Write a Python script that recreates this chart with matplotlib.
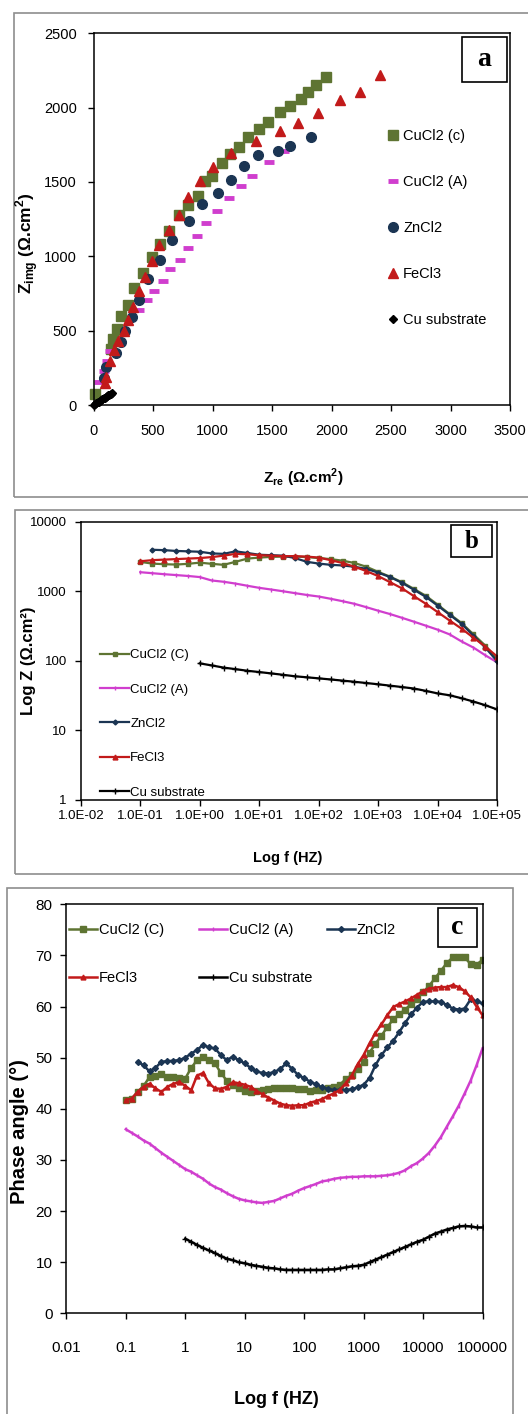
import matplotlib
matplotlib.use("Agg")
import matplotlib.pyplot as plt
from matplotlib.patches import Rectangle
from matplotlib.ticker import FixedLocator, NullLocator, FuncFormatter

# ---------------- panel a : Nyquist ----------------
cucl2_c_re = [11, 144, 167, 195, 229, 286, 339, 413, 492, 560, 632, 716, 792, 876, 935, 992,
              1076, 1146, 1222, 1298, 1393, 1469, 1570, 1652, 1742, 1801, 1871, 1952]
cucl2_c_im = [74, 376, 444, 511, 598, 672, 786, 889, 995, 1080, 1173, 1280, 1348, 1408, 1504, 1543,
              1626, 1688, 1738, 1805, 1859, 1906, 1973, 2013, 2058, 2108, 2150, 2204]
cucl2_a_re = [42, 84, 110, 140, 379, 449, 506, 581, 646, 722, 795, 868, 947, 1039, 1138, 1236,
              1334, 1475, 1601]
cucl2_a_im = [152, 231, 298, 366, 639, 706, 769, 836, 913, 978, 1056, 1135, 1222, 1307, 1390, 1475,
              1543, 1632, 1711]
zncl2_re = [84, 104, 188, 233, 267, 323, 385, 458, 562, 663, 801, 913, 1045, 1152, 1267, 1385,
            1548, 1649, 1823]
zncl2_im = [180, 253, 348, 422, 500, 594, 706, 845, 975, 1110, 1240, 1352, 1426, 1516, 1608, 1682,
            1709, 1742, 1805]
fecl3_re = [95, 104, 140, 170, 205, 253, 289, 331, 379, 435, 492, 553, 632, 716, 795, 893, 1006,
            1152, 1365, 1565, 1719, 1888, 2070, 2239, 2404]
fecl3_im = [150, 186, 298, 370, 433, 500, 572, 657, 769, 859, 971, 1076, 1177, 1280, 1401, 1504,
            1603, 1695, 1778, 1841, 1897, 1962, 2052, 2108, 2220]
cu_re = [3, 14, 22, 35, 44, 55, 63, 74, 85, 93, 104, 113, 124, 133, 145, 154]
cu_im = [2, 9, 12, 19, 22, 29, 32, 39, 44, 47, 54, 58, 64, 67, 74, 80]

# ---------------- panel b : Bode |Z| ----------------
freq_b = [0.1, 0.158, 0.251, 0.398, 0.631, 1.0, 1.58, 2.51, 3.98, 6.31, 10, 15.8, 25.1, 39.8, 63.1,
          100, 158, 251, 398, 631, 1000, 1580, 2510, 3980, 6310, 10000, 15800, 25100, 39800, 63100,
          100000]
z_cucl2_c = [2650, 2500, 2450, 2420, 2480, 2580, 2480, 2400, 2650, 2950, 3050, 3120, 3150, 3150, 3100,
             3000, 2900, 2750, 2550, 2250, 1900, 1620, 1350, 1080, 860, 640, 470, 350, 240, 165, 105]
z_cucl2_a = [1880, 1820, 1760, 1710, 1660, 1600, 1430, 1370, 1290, 1200, 1120, 1060, 1000, 940, 885,
             840, 780, 720, 660, 590, 525, 470, 415, 365, 320, 280, 240, 190, 155, 120, 95]
z_zncl2 = [3950, 3900, 3800, 3750, 3700, 3500, 3450, 3750, 3550, 3350, 3300, 3250, 3000, 2650,
           2500, 2400, 2350, 2250, 2100, 1850, 1600, 1320, 1050, 830, 620, 460, 340, 230, 155, 98]
z_fecl3 = [2700, 2800, 2850, 2900, 2950, 3000, 3100, 3250, 3450, 3400, 3300, 3250, 3200, 3200, 3150,
           3050, 2800, 2550, 2250, 1950, 1650, 1350, 1100, 850, 660, 500, 380, 290, 215, 160, 115]
z_cu = [92, 86, 80, 76, 72, 69, 66, 63, 60, 58, 56, 54, 52, 50, 48, 46, 44, 42, 40, 37, 34, 32, 29,
        26, 23, 20]

# ---------------- panel c : Bode phase ----------------
freq_c = [0.1, 0.126, 0.158, 0.2, 0.251, 0.316, 0.398, 0.501, 0.631, 0.794,
          1, 1.26, 1.58, 2, 2.51, 3.16, 3.98, 5.01, 6.31, 7.94,
          10, 12.6, 15.8, 20, 25.1, 31.6, 39.8, 50.1, 63.1, 79.4,
          100, 126, 158, 200, 251, 316, 398, 501, 631, 794,
          1000, 1260, 1580, 2000, 2510, 3160, 3980, 5010, 6310, 7940,
          10000, 12600, 15800, 20000, 25100, 31600, 39800, 50100, 63100, 79400, 100000]
ph_cucl2_c = [41.7, 42.0, 43.3, 44.5, 46.2, 46.5, 46.9, 46.3, 46.2, 46.0,
              45.9, 48.0, 49.5, 50.2, 49.6, 48.9, 47.0, 45.5, 44.6, 44.0,
              43.5, 43.3, 43.4, 43.7, 43.9, 44.0, 44.1, 44.0, 44.0, 43.9,
              43.8, 43.5, 43.7, 43.7, 44.0, 44.3, 44.7, 45.8, 46.6, 47.8,
              49.2, 51.0, 52.7, 54.3, 56.0, 57.5, 58.5, 59.4, 60.5, 61.5,
              62.8, 64.0, 65.5, 67.0, 68.5, 69.6, 69.6, 69.6, 68.3, 68.2, 69.1]
ph_cucl2_a = [36.0, 35.3, 34.6, 33.8, 33.2, 32.3, 31.4, 30.6, 29.8, 29.0,
              28.2, 27.7, 27.0, 26.3, 25.4, 24.7, 24.2, 23.5, 22.9, 22.4,
              22.1, 21.9, 21.7, 21.6, 21.8, 22.0, 22.5, 23.0, 23.4, 24.0,
              24.5, 24.9, 25.3, 25.8, 26.0, 26.3, 26.5, 26.6, 26.7, 26.7,
              26.8, 26.8, 26.8, 26.9, 27.0, 27.2, 27.5, 28.0, 28.8, 29.4,
              30.3, 31.4, 32.8, 34.5, 36.5, 38.5, 40.6, 43.0, 45.5, 48.5, 51.8]
ph_zncl2 = [49.2, 48.5, 47.3, 48.0, 49.2, 49.3, 49.4, 49.5,
            50.0, 50.8, 51.5, 52.5, 52.0, 51.8, 50.5, 49.5, 50.2, 49.5,
            48.9, 48.0, 47.3, 47.0, 46.9, 47.2, 47.8, 48.9, 47.8, 46.6,
            46.0, 45.3, 44.8, 44.2, 43.9, 43.7, 43.7, 43.7, 43.8, 44.2,
            44.7, 46.0, 48.5, 50.5, 52.0, 53.3, 55.0, 56.8, 58.5, 59.8,
            60.9, 61.0, 61.0, 60.9, 60.3, 59.6, 59.4, 59.6, 61.4, 61.0, 60.6]
ph_fecl3 = [41.7, 42.0, 43.3, 44.3, 44.9, 44.0, 43.3, 44.3, 44.9, 45.2,
            44.5, 43.6, 46.5, 47.0, 45.0, 44.0, 43.9, 44.3, 45.2, 45.0,
            44.7, 44.3, 43.5, 42.8, 42.2, 41.6, 41.0, 40.7, 40.6, 40.7,
            40.7, 41.2, 41.5, 41.9, 42.5, 43.0, 43.7, 45.0, 46.5, 48.7,
            50.5, 52.8, 54.8, 56.5, 58.3, 59.9, 60.5, 61.0, 61.6, 62.3,
            63.0, 63.5, 63.7, 63.8, 63.8, 64.2, 63.8, 63.0, 61.8, 60.0, 58.3]
ph_cu = [14.6, 14.0, 13.4, 12.8, 12.3, 11.8, 11.2, 10.7, 10.4, 10.0,
         9.8, 9.5, 9.3, 9.1, 8.9, 8.8, 8.6, 8.5, 8.5, 8.5,
         8.5, 8.5, 8.5, 8.5, 8.6, 8.6, 8.8, 9.0, 9.2, 9.3,
         9.5, 10.0, 10.5, 11.0, 11.5, 12.0, 12.5, 13.0, 13.5, 14.0,
         14.4, 15.0, 15.6, 16.0, 16.4, 16.7, 17.0, 17.1, 17.0, 16.8, 16.8]

OLIVE = "#5E7432"
MAGENTA = "#D03ECE"
NAVY = "#1B3553"
RED = "#C21A1A"
BLACK = "#000000"
FRAME = "#8E8E8E"

plt.rcParams["font.family"] = ["Liberation Sans", "DejaVu Sans"]
plt.rcParams["mathtext.fontset"] = "custom"
plt.rcParams["mathtext.rm"] = "Liberation Sans"
plt.rcParams["mathtext.bf"] = "Liberation Sans:bold"

W, H = 528, 1414
fig = plt.figure(figsize=(W / 100, H / 100), dpi=100)


def rect(l, t, r, b):
    return [l / W, 1 - b / H, (r - l) / W, (b - t) / H]


def frame(l, t, r, b):
    fig.patches.append(Rectangle((l / W, 1 - b / H), (r - l) / W, (b - t) / H,
                                 transform=fig.transFigure, fill=False,
                                 edgecolor=FRAME, lw=1.2))


def letter_box(l, t, r, b, txt, size):
    fig.patches.append(Rectangle((l / W, 1 - b / H), (r - l) / W, (b - t) / H,
                                 transform=fig.transFigure, facecolor="white",
                                 edgecolor="black", lw=1.2, zorder=5))
    fig.text((l + r) / 2 / W, 1 - (t + b) / 2 / H, txt, ha="center", va="center",
             fontsize=size, fontweight="bold", family="Liberation Serif", zorder=6)


def style_axes(ax):
    for s in ax.spines.values():
        s.set_linewidth(1.1)
        s.set_color("black")
    ax.tick_params(direction="out", length=4, width=1, color="black")


frame(14, 13, 540, 497)
frame(15, 510, 540, 874)
frame(7, 888, 513, 1430)

# ---- a ----
axA = fig.add_axes(rect(93.6, 33.3, 510.1, 405))
axA.plot(cucl2_c_re, cucl2_c_im, "s", color=OLIVE, ms=6.5, label="CuCl2 (c)", clip_on=False)
axA.plot(cucl2_a_re, cucl2_a_im, "_", color=MAGENTA, ms=7, mew=3.5, label="CuCl2 (A)", clip_on=False)
axA.plot(zncl2_re, zncl2_im, "o", color=NAVY, ms=7, label="ZnCl2", clip_on=False)
axA.plot(fecl3_re, fecl3_im, "^", color=RED, ms=7.5, label="FeCl3", clip_on=False)
axA.plot(cu_re, cu_im, "D", color=BLACK, ms=4, label="Cu substrate", clip_on=False)
axA.set_xlim(0, 3500)
axA.set_ylim(0, 2500)
axA.set_xticks(range(0, 3501, 500))
axA.set_yticks(range(0, 2501, 500))
style_axes(axA)
axA.tick_params(labelsize=10.5)
axA.tick_params(axis="x", pad=10)
axA.tick_params(axis="y", pad=8)
axA.legend(loc="upper left", bbox_to_anchor=(387 / W, 1 - 129 / H), bbox_transform=fig.transFigure,
           frameon=False, numpoints=1, handlelength=0.8, handletextpad=0.3,
           labelspacing=2.2, fontsize=10.5, borderaxespad=0, borderpad=0)
fig.text(27 / W, 1 - 243 / H, r"Z$_{\mathbf{img}}$ (Ω.cm$^{\mathbf{2}}$)", rotation=90,
         ha="center", va="center", fontsize=12.5, fontweight="bold")
fig.text(303 / W, 1 - 478 / H, r"Z$_{\mathbf{re}}$ (Ω.cm$^{\mathbf{2}}$)",
         ha="center", va="center", fontsize=11, fontweight="bold")
letter_box(462, 37, 507, 82, "a", 20)

# ---- b ----
axB = fig.add_axes(rect(80.8, 521.7, 497.3, 800))
axB.plot(freq_b, z_cucl2_c, "-s", color=OLIVE, ms=3, lw=1.6, label="CuCl2 (C)")
axB.plot(freq_b, z_cucl2_a, "-", marker="|", color=MAGENTA, ms=3, lw=1.6, label="CuCl2 (A)")
axB.plot(freq_b[1:], z_zncl2, "-D", color=NAVY, ms=2.5, lw=1.6, label="ZnCl2")
axB.plot(freq_b, z_fecl3, "-^", color=RED, ms=3.5, lw=1.6, label="FeCl3")
axB.plot(freq_b[5:], z_cu, "-+", color=BLACK, ms=4, lw=1.6, label="Cu substrate")
axB.set_xscale("log")
axB.set_yscale("log")
axB.set_xlim(0.01, 1e5)
axB.set_ylim(1, 10000)
axB.xaxis.set_major_locator(FixedLocator([1e-2, 1e-1, 1, 10, 1e2, 1e3, 1e4, 1e5]))
axB.xaxis.set_minor_locator(NullLocator())
axB.yaxis.set_major_locator(FixedLocator([1, 10, 100, 1000, 10000]))
axB.yaxis.set_minor_locator(NullLocator())
axB.xaxis.set_major_formatter(FuncFormatter(lambda v, p: "%.1E" % v))
axB.yaxis.set_major_formatter(FuncFormatter(lambda v, p: "%d" % v))
style_axes(axB)
axB.tick_params(labelsize=9.5)
axB.tick_params(axis="x", pad=3)
axB.tick_params(axis="y", pad=6)
axB.legend(loc="upper left", bbox_to_anchor=(100 / W, 1 - 649 / H), bbox_transform=fig.transFigure,
           frameon=False, handlelength=2.2, handletextpad=0.1, labelspacing=1.68,
           fontsize=9.5, borderaxespad=0, borderpad=0)
fig.text(28 / W, 1 - 661 / H, "Log Z (Ω.cm²)", rotation=90, ha="center", va="center",
         fontsize=12, fontweight="bold")
fig.text(288 / W, 1 - 858 / H, "Log f (HZ)", ha="center", va="center", fontsize=10.5,
         fontweight="bold")
letter_box(451, 525, 492, 557, "b", 18)

# ---- c ----
axC = fig.add_axes(rect(66.3, 904.2, 482.5, 1313.4))
hc1, = axC.plot(freq_c, ph_cucl2_c, "-s", color=OLIVE, ms=4.5, lw=1.8, label="CuCl2 (C)")
hc2, = axC.plot(freq_c, ph_cucl2_a, "-", marker="|", color=MAGENTA, ms=3, lw=1.8, label="CuCl2 (A)")
hc3, = axC.plot(freq_c[2:], ph_zncl2, "-D", color=NAVY, ms=3, lw=1.8, label="ZnCl2")
hc4, = axC.plot(freq_c, ph_fecl3, "-^", color=RED, ms=3.5, lw=1.8, label="FeCl3")
hc5, = axC.plot(freq_c[10:], ph_cu, "-+", color=BLACK, ms=4, lw=1.8, label="Cu substrate")
axC.set_xscale("log")
axC.set_xlim(0.01, 1e5)
axC.set_ylim(0, 80)
axC.xaxis.set_major_locator(FixedLocator([1e-2, 1e-1, 1, 10, 1e2, 1e3, 1e4, 1e5]))
axC.xaxis.set_minor_locator(NullLocator())
axC.set_yticks(range(0, 81, 10))
axC.xaxis.set_major_formatter(FuncFormatter(lambda v, p: "%g" % v))
style_axes(axC)
axC.tick_params(labelsize=11)
axC.tick_params(axis="x", pad=16)
axC.tick_params(axis="y", pad=6)
legkw = dict(frameon=False, handlelength=1.95, handletextpad=0.1, labelspacing=2.35,
             fontsize=10.5, borderaxespad=0, borderpad=0, bbox_transform=fig.transFigure,
             loc="upper left")
lg1 = axC.legend([hc1, hc4], ["CuCl2 (C)", "FeCl3"], bbox_to_anchor=(69 / W, 1 - 923 / H), **legkw)
axC.add_artist(lg1)
lg2 = axC.legend([hc2, hc5], ["CuCl2 (A)", "Cu substrate"], bbox_to_anchor=(199 / W, 1 - 923 / H), **legkw)
axC.add_artist(lg2)
axC.legend([hc3], ["ZnCl2"], bbox_to_anchor=(327 / W, 1 - 923 / H), **legkw)
fig.text(20 / W, 1 - 1132 / H, "Phase angle (°)", rotation=90, ha="center", va="center",
         fontsize=14.5, fontweight="bold")
fig.text(276 / W, 1 - 1399 / H, "Log f (HZ)", ha="center", va="center", fontsize=13,
         fontweight="bold")
letter_box(438, 908, 477, 947, "c", 20)

fig.savefig("out.png", dpi=100)
